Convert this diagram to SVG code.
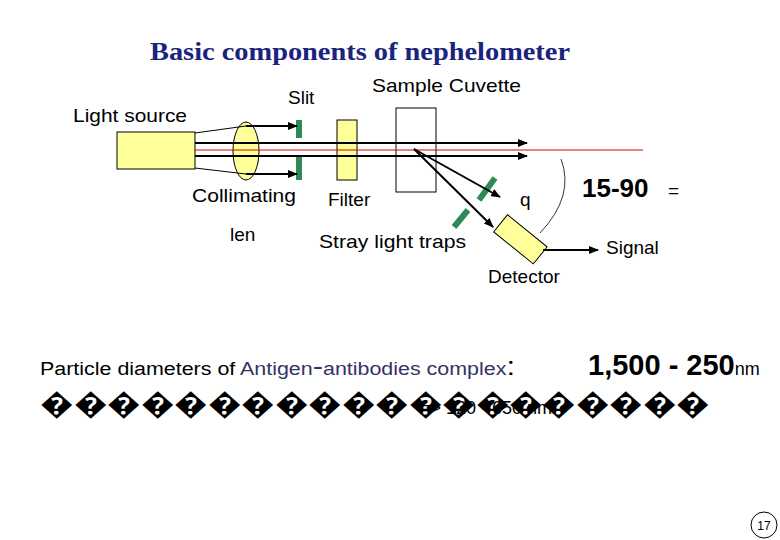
<svg xmlns="http://www.w3.org/2000/svg" width="780" height="540" viewBox="0 0 780 540">
<style>
text{font-family:"Liberation Sans",Arial,sans-serif;font-size:19px;fill:#000}
.y{fill:#ffff99;stroke:#000;stroke-width:1}
.g{stroke:#2e8b57;stroke-width:6}
.a{stroke:#000;stroke-width:2;fill:none;marker-end:url(#ar)}
</style>
<defs><marker id="ar" markerWidth="10" markerHeight="8" refX="9" refY="4" orient="auto" markerUnits="userSpaceOnUse"><path d="M0,0L10,4L0,8z" fill="#000"/></marker></defs>
<rect width="780" height="540" fill="#fff"/>
<text x="150" y="60" style="font-family:'Liberation Serif',serif;font-weight:bold;font-size:26px;fill:#1a237e" textLength="420" lengthAdjust="spacingAndGlyphs">Basic components of nephelometer</text>
<g id="source"><rect class="y" x="117" y="132" width="78" height="37"/></g>
<g id="lens"><ellipse class="y" cx="246" cy="151" rx="13" ry="29"/></g>
<g id="slit"><line class="g" x1="299" y1="120" x2="299" y2="138"/><line class="g" x1="299" y1="155" x2="299" y2="180"/></g>
<g id="filter"><rect class="y" x="337" y="120" width="20" height="60"/></g>
<g id="cuvette"><rect x="396" y="108" width="40" height="84" fill="none" stroke="#000"/></g>
<g id="traps"><line class="g" x1="495" y1="178" x2="479" y2="200"/><line class="g" x1="468" y1="210" x2="454" y2="227"/></g>
<g id="detector"><rect class="y" x="-25" y="-11" width="51" height="22" transform="translate(520,239) rotate(39)"/></g>
<g id="connectors">
<line x1="195" y1="150" x2="643" y2="150" stroke="#d00" stroke-width="1"/>
<line x1="195" y1="133" x2="246" y2="126" stroke="#000"/>
<line x1="195" y1="168" x2="246" y2="174" stroke="#000"/>
<line class="a" x1="246" y1="126" x2="297" y2="126"/>
<line class="a" x1="246" y1="174" x2="297" y2="174"/>
<line class="a" x1="195" y1="143" x2="527" y2="143"/>
<line class="a" x1="195" y1="156" x2="527" y2="156"/>
<line class="a" x1="414" y1="149" x2="500" y2="197"/>
<line class="a" x1="414" y1="149" x2="493" y2="227"/>
<line class="a" x1="543" y1="250" x2="598" y2="250"/>
<path d="M561,159 Q575,196 540,233" fill="none" stroke="#000" stroke-width="0.8"/>
</g>
<text x="288" y="104">Slit</text>
<text x="372" y="92" textLength="149" lengthAdjust="spacingAndGlyphs">Sample Cuvette</text>
<text x="73" y="122" textLength="114" lengthAdjust="spacingAndGlyphs">Light source</text>
<text x="192" y="202" textLength="104" lengthAdjust="spacingAndGlyphs">Collimating</text>
<text x="230" y="241">len</text>
<text x="328" y="206">Filter</text>
<text x="319" y="248" textLength="147" lengthAdjust="spacingAndGlyphs">Stray light traps</text>
<text x="488" y="283">Detector</text>
<text x="606" y="254">Signal</text>
<text x="520" y="206" style="font-weight:300">q</text>
<text x="582" y="197" style="font-weight:bold;font-size:26px">15-90</text>
<text x="668" y="197">=</text>
<text x="40" y="375" style="font-size:18px" textLength="475" lengthAdjust="spacingAndGlyphs">Particle diameters of <tspan fill="#333366">Antigen</tspan><tspan fill="#333366" font-size="26px">-</tspan><tspan fill="#333366">antibodies complex</tspan><tspan font-size="26px">:</tspan></text>
<text x="588" y="375" style="font-weight:bold;font-size:29px">1,500 - 250<tspan font-weight="normal" font-size="18px">nm</tspan></text>
<text x="40" y="414" style="font-size:30px" textLength="670" lengthAdjust="spacingAndGlyphs">��������������������</text>
<text x="420" y="414" style="font-size:18px">=&gt; 120 - 650 nm</text>
<g id="page"><circle cx="764" cy="525" r="13" fill="none" stroke="#000"/><text x="764" y="530" text-anchor="middle" style="font-size:12px">17</text></g>
</svg>
